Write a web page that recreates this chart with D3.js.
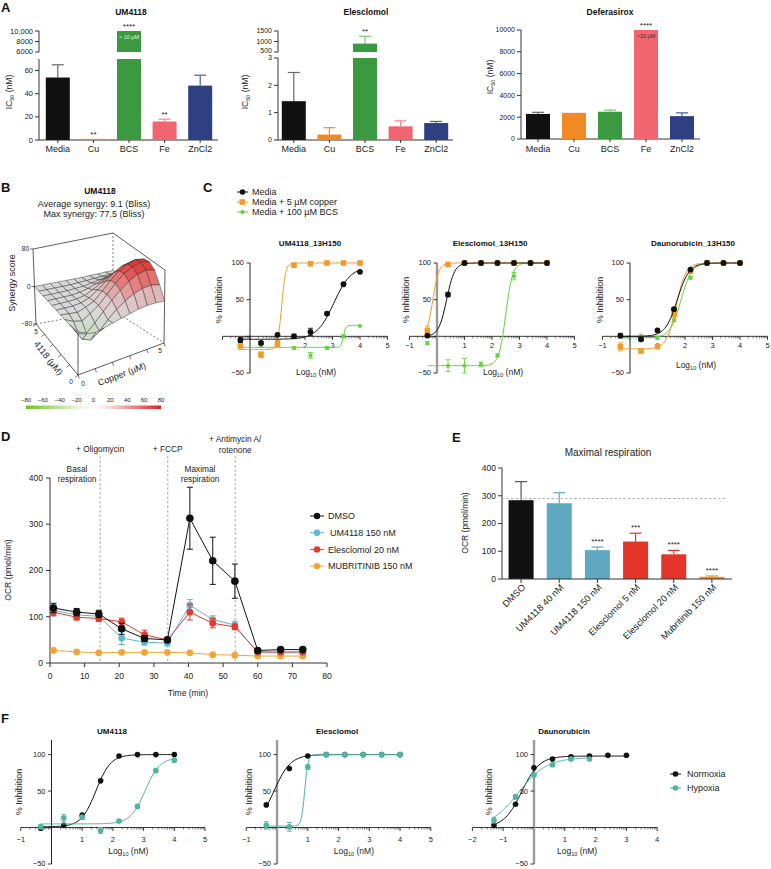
<!DOCTYPE html>
<html><head><meta charset="utf-8">
<script src="https://cdn.jsdelivr.net/npm/d3@7"></script>
<style>body{margin:0;background:#fff} svg{display:block}</style>
</head><body><script>
// ================= DATA =================
// Panel A
const aCategories=["Media","Cu","BCS","Fe","ZnCl2"];
const um4118IC50=[54,1,10000,16,47];
const um4118IC50Err=[11,0,0,2,9];
const um4118Sig=["","**","****","**",""];
const um4118LowTicks=[0,20,40,60];
const um4118UpTicks=[6000,8000,10000];
const um4118UpLabels=["6000","8000","10,000"];
const elesIC50=[1.42,0.2,900,0.5,0.62];
const elesIC50Err=[1.05,0.25,350,0.2,0.06];
const elesSig=["","","**","",""];
const elesLowTicks=[0,1,2,3];
const elesUpTicks=[500,1000,1500];
const elesUpLabels=["500","1000","1500"];
const defIC50=[2300,2400,2500,10000,2100];
const defIC50Err=[150,0,150,0,300];
const defSig=["","","","****",""];
const defTicks=[0,2000,4000,6000,8000,10000];
// Panel B (synergy surface, rows = 4118 µM, cols = copper µM)
const syn4118=[0,0.5,1,1.5,2,2.5,3,3.5,4,4.5,5];
const synCopper=[0,0.5,1,1.5,2,2.5,3,3.5,4,4.5,5];
const synergy=[
 [0,-5,-8,-5,0,4,8,12,14,14,12],
 [0,-25,-32,-20,-2,14,26,36,42,44,40],
 [0,-20,-28,-12,6,24,40,54,64,68,64],
 [0,-8,-12,-2,10,28,46,62,72,77,74],
 [0,-2,-4,2,10,26,44,60,70,75,72],
 [0,0,0,2,8,20,34,48,58,62,60],
 [0,0,0,1,4,12,22,32,40,44,42],
 [0,0,0,0,2,6,12,18,24,26,25],
 [0,0,0,0,1,2,5,8,11,12,12],
 [0,0,0,0,0,1,2,3,4,5,5],
 [0,0,0,0,0,0,0,1,1,2,2]];
const synZTicks=[-80,0,80];
const synBarTicks=[-80,-60,-40,-20,0,20,40,60,80];
// Panel C
const cSeriesNames=["Media","Media + 5 µM copper","Media + 100 µM BCS"];
const cDose=[-0.35,0.4,1.0,1.6,2.2,2.8,3.4,4.0];
const c1Media=[-5,-9,2,0,6,31,71,88], c1MediaErr=[3,2,2,3,5,2,2,1];
const c1Copper=[-13,-25,-10,97,99,100,100,100], c1CopperErr=[5,4,4,1,1,1,1,1];
const c1BCS=[-12,-13,-7,-16,-26,-16,0,14], c1BCSErr=[2,2,2,2,4,2,2,1];
const c1Fits=[[-4,95,3.05,1.4],[-18,100,1.15,6],[-15,15,3.4,10]];
const c2Media=[1,57,100,100,100,100,100,100], c2MediaErr=[2,3,1,1,1,1,1,1];
const c2Copper=[8,98,100,100,100,100,100,100], c2CopperErr=[6,1,1,1,1,1,1,1];
const c2BCS=[-9,-40,-40,-38,-26,82,100,100], c2BCSErr=[2,8,10,3,2,5,1,1];
const c2Fits=[[0,100,0.35,3],[0,100,-0.15,4],[-40,100,2.5,3.5]];
const c3Media=[1,-4,8,37,91,100,100,100], c3MediaErr=[3,2,1,2,1,0,0,0];
const c3Copper=[-14,-20,-14,30,89,100,100,100], c3CopperErr=[5,2,2,3,2,0,0,0];
const c3BCS=[0,-1,-2,22,80,100,100,100], c3BCSErr=[2,4,2,2,2,0,0,0];
const c3Fits=[[0,100,1.72,2],[-17,100,1.68,2.5],[-2,100,1.85,2.2]];
const c1XLabels=[2,3,4,5], c23XLabels=[-1,1,2,3,4,5];
const cYTicks=[-50,0,50,100], cYLabels=[-50,50,100];
// Panel D
const dTime=[1,7.7,14.1,20.7,27.3,33.9,40.4,47,53.4,60,66.6,73];
const dSeriesNames=["DMSO","UM4118 150 nM","Elesclomol 20 nM","MUBRITINIB 150 nM"];
const dDMSO=[119,110,106,74,53,50,313,221,177,27,29,29];
const dDMSOErr=[10,8,8,12,6,4,67,51,37,4,4,4];
const dUM=[114,104,101,54,45,43,125,94,82,22,22,22];
const dUMErr=[12,10,10,14,6,6,12,8,8,3,3,3];
const dEles=[110,99,96,89,61,50,110,86,78,24,24,24];
const dElesErr=[8,6,6,8,10,3,17,10,6,3,3,3];
const dMub=[27,24,22,23,23,23,22,18,17,15,15,15];
const dMubErr=[3,2,2,2,2,2,2,2,2,2,2,2];
const dInjTimes=[14.5,34,53.5];
const dInjLabels=[["+ Oligomycin"],["+ FCCP"],["+ Antimycin A/","rotenone"]];
const dXTicks=[0,10,20,30,40,50,60,70,80];
const dYTicks=[0,100,200,300,400];
// Panel E
const eCats=["DMSO","UM4118 40 nM","UM4118 150 nM","Elesclomol 5 nM","Elesclomol 20 nM","Mubritinib 150 nM"];
const eVals=[284,273,104,135,89,8];
const eErr=[67,38,11,30,14,3];
const eSig=["","","****","***","****","****"];
const eRefLine=290;
const eYTicks=[0,100,200,300,400];
// Panel F
const fSeriesNames=["Normoxia","Hypoxia"];
const fDose=[-0.35,0.4,1.0,1.6,2.2,2.8,3.4,4.0];
const f1Norm=[-1,3,17,64,98,100,100,100], f1NormErr=[2,1,1,1,1,0,0,0];
const f1Hyp=[1,13,14,-4,9,29,78,92], f1HypErr=[3,5,3,4,2,2,2,2];
const f1Fits=[[1,100,1.45,1.8],[5,96,3.05,1.8]];
const f2Norm=[31,81,98,100,100,100,100,100], f2NormErr=[1,1,1,0,0,0,0,0];
const f2Hyp=[3,1,83,100,100,100,100,100], f2HypErr=[5,6,3,0,0,0,0,0];
const f2Fits=[[0,100,-0.1,1.6],[2,100,0.9,8]];
const f3Dose=[-1.3,-0.6,0,0.6,1.2,1.8,2.4,3.0];
const f3Norm=[3,32,82,94,97,98,99,99], f3NormErr=[1,1,1,1,0,0,0,0];
const f3Dose6=[-1.3,-0.6,0,0.6,1.2,1.8];
const f3Hyp=[10,42,72,86,94,94], f3HypErr=[4,3,2,2,2,2];
const f3Fits=[[0,98,-0.4,1.5],[0,96,-0.5,0.95]];
const fYTicks=[-50,0,50,100], fYLabels=[-50,50,100];

// ================= STYLES =================
const FONT='"Liberation Sans", Arial, Helvetica, sans-serif';
const aColors=["#111111","#f08a24","#3b9a3f","#f0656f","#2e3f82"];
const aErrColors=["#666666","#f08a24","#7cc27e","#f3868d","#4d5ea0"];
const cColors=["#111111","#f39a2b","#62d13f"];
const dColors=["#111111","#5fb6cf","#e8382b","#f2a535"];
const eColors=["#111111","#5ea9c0","#5ea9c0","#e3352a","#e3352a","#ef8f2a"];
const fColors=["#111111","#4fb5a2"];

const svg=d3.select("body").append("svg").attr("width",771).attr("height",869)
  .style("font-family",FONT).style("background","#fff");
svg.append("rect").attr("width",771).attr("height",869).attr("fill","#fff");

function T(g,x,y,s,o={}){
  const t=g.append("text").attr("x",x).attr("y",y).text(s)
    .attr("font-size",o.size||8.5).attr("text-anchor",o.anchor||"middle")
    .attr("fill",o.fill||"#222");
  if(o.bold) t.attr("font-weight","bold");
  if(o.rot!=null) t.attr("transform",`rotate(${o.rot},${x},${y})`);
  if(o.dy) t.attr("dy",o.dy);
  return t;
}
function L(g,x1,y1,x2,y2,c="#222",w=1,dash=null){
  const l=g.append("line").attr("x1",x1).attr("y1",y1).attr("x2",x2).attr("y2",y2)
    .attr("stroke",c).attr("stroke-width",w);
  if(dash) l.attr("stroke-dasharray",dash);
  return l;
}
function subLabel(g,x,y,pre,sub,post,o={}){
  const t=g.append("text").attr("x",x).attr("y",y).attr("font-size",o.size||8.5)
    .attr("text-anchor","middle").attr("fill","#222");
  if(o.rot!=null) t.attr("transform",`rotate(${o.rot},${x},${y})`);
  t.append("tspan").text(pre);
  t.append("tspan").text(sub).attr("font-size",(o.size||8.5)*0.65).attr("dy",2);
  t.append("tspan").text(post).attr("dy",-2);
  return t;
}

// panel letters
[["A",1,12],["B",1,192],["C",203,192],["D",1,441],["E",452,442],["F",1,723]].forEach(d=>
  T(svg,d[1],d[2],d[0],{size:13,bold:true,anchor:"start",fill:"#111"}));

// ================= PANEL A =================
function panelA(o){
  const g=svg.append("g");
  const x=d3.scalePoint(aCategories,[o.bx0,o.bx1]).padding(0.5);
  const bw=24;
  const yL=d3.scaleLinear(o.lowDom,o.lowRange);
  const yU=o.upDom?d3.scaleLinear(o.upDom,o.upRange):null;
  const ts=o.tickSize||7.5;
  T(g,o.titleX,15,o.title,{size:8.5,bold:true,fill:"#111"});
  L(g,o.ax,yL(o.lowDom[1]),o.ax,yL(0),"#333",1);
  o.lowTicks.forEach((t,i)=>{L(g,o.ax-4,yL(t),o.ax,yL(t),"#333",1);
    T(g,o.ax-6,yL(t),String(t),{size:ts,anchor:"end",dy:"0.35em"});});
  if(yU){
    L(g,o.ax,yU(o.upDom[1]),o.ax,yU(o.upDom[0]),"#333",1);
    o.upTicks.forEach((t,i)=>{L(g,o.ax-4,yU(t),o.ax,yU(t),"#333",1);
      T(g,o.ax-6,yU(t)-(i===0?1:0),o.upLabels[i],{size:ts,anchor:"end",dy:"0.35em"});});
  }
  L(g,o.ax,yL(0),o.axEnd,yL(0),"#333",1);
  subLabel(g,o.ylabX,o.ylabY,"IC","50"," (nM)",{size:8.5,rot:-90});
  aCategories.forEach((c,i)=>{
    const cx=x(c), v=o.vals[i], e=o.errs[i];
    L(g,cx,yL(0),cx,yL(0)+3,"#333",1);
    T(g,cx,152,c,{size:9,fill:"#222"});
    let topY;
    if(!yU || v<=o.lowDom[1]){
      if(e>0){L(g,cx,yL(v),cx,yL(v+e),aErrColors[i],1.2);L(g,cx-6,yL(v+e),cx+6,yL(v+e),aErrColors[i],1.2);}
      g.append("rect").attr("x",cx-bw/2).attr("width",bw).attr("y",yL(v)).attr("height",Math.max(1.2,yL(0)-yL(v))).attr("fill",aColors[i]);
      topY=yL(v+e);
    } else {
      g.append("rect").attr("x",cx-bw/2).attr("width",bw).attr("y",yL(o.lowDom[1])).attr("height",yL(0)-yL(o.lowDom[1])).attr("fill",aColors[i]);
      const vv=Math.min(v,o.upDom[1]);
      if(e>0){L(g,cx,yU(vv),cx,yU(vv+e),aErrColors[i],1.2);L(g,cx-6,yU(vv+e),cx+6,yU(vv+e),aErrColors[i],1.2);}
      g.append("rect").attr("x",cx-bw/2).attr("width",bw).attr("y",yU(vv)).attr("height",yU(o.upDom[0])-yU(vv)).attr("fill",aColors[i]);
      topY=yU(vv+e);
    }
    if(o.sig[i]) T(g,cx,topY-2,o.sig[i],{size:8,fill:"#222"});
    if(o.over && o.over[i]) T(g,cx,topY+8,o.over[i],{size:5.5,fill:o.overFill});
  });
}
panelA({title:"UM4118",titleX:131,bx0:40,bx1:218,ax:39,axEnd:218,lowDom:[0,70],lowRange:[140,59],
  upDom:[6000,10000],upRange:[52,31],lowTicks:um4118LowTicks,upTicks:um4118UpTicks,upLabels:um4118UpLabels,
  vals:um4118IC50,errs:um4118IC50Err,sig:um4118Sig,ylabX:12,ylabY:92,over:["","","> 10 µM","",""],overFill:"#e8f3e8"});
panelA({title:"Elesclomol",titleX:366,bx0:276,bx1:454,ax:278,axEnd:453,lowDom:[0,3],lowRange:[140,58],
  upDom:[500,1500],upRange:[52,31],lowTicks:elesLowTicks,upTicks:elesUpTicks,upLabels:elesUpLabels,tickSize:7,
  vals:elesIC50,errs:elesIC50Err,sig:elesSig,ylabX:248,ylabY:92});
panelA({title:"Deferasirox",titleX:610,bx0:520,bx1:700,ax:521,axEnd:700,lowDom:[0,10000],lowRange:[139,30],tickSize:7,
  lowTicks:defTicks,vals:defIC50,errs:defIC50Err,sig:defSig,ylabX:493,ylabY:77,over:["","","",">10 µM",""],overFill:"#333"});

// ================= PANEL B =================
(function(){
  const g=svg.append("g");
  T(g,100,194,"UM4118",{size:8.5,bold:true,fill:"#111"});
  T(g,94,207,"Average synergy: 9.1 (Bliss)",{size:9});
  T(g,94,217,"Max synergy: 77.5 (Bliss)",{size:9});
  const uS=d3.scaleLinear([0,5],[0,1]), vS=d3.scaleLinear([0,5],[0,1]), wS=d3.scaleLinear([-80,80],[0,1]);
  const BOT={O:[78,375],R:[164,343],Lc:[36,324],B:[113,310]};
  const TOP={O:[78,293],R:[165,270],Lc:[33,249],B:[113,233]};
  function bil(c,u,v){
    const a=[c.O[0]*(1-u)+c.R[0]*u, c.O[1]*(1-u)+c.R[1]*u];
    const b=[c.Lc[0]*(1-u)+c.B[0]*u, c.Lc[1]*(1-u)+c.B[1]*u];
    return [a[0]*(1-v)+b[0]*v, a[1]*(1-v)+b[1]*v];
  }
  function P(cu,c4,z){const u=uS(cu),v=vS(c4),w=wS(z);const b=bil(BOT,u,v),t=bil(TOP,u,v);
    return [b[0]+(t[0]-b[0])*w,b[1]+(t[1]-b[1])*w];}
  const col=d3.scaleLinear([-80,-20,0,20,80],["#6cc61e","#e6f4da","#ffffff","#f8d9dc","#e2201a"]);
  const bB=P(5,5,-80), bT=P(5,5,80), lB=P(0,5,-80), lT=P(0,5,80), rB=P(5,0,-80), rT=P(5,0,80), oB=P(0,0,-80);
  L(g,bB[0],bB[1],bT[0],bT[1],"#444",0.7,"2,2");
  L(g,lB[0],lB[1],bB[0],bB[1],"#444",0.7,"2,2");
  L(g,bB[0],bB[1],rB[0],rB[1],"#444",0.7,"2,2");
  L(g,lB[0],lB[1],lT[0],lT[1],"#333",0.8);
  L(g,lT[0],lT[1],bT[0],bT[1],"#333",0.8);
  L(g,bT[0],bT[1],rT[0],rT[1],"#333",0.8);
  L(g,rB[0],rB[1],rT[0],rT[1],"#333",0.8);
  const oS=P(0,0,synergy[0][0]);
  L(g,oB[0],oB[1],oS[0],oS[1],"#333",0.8);
  const cells=[];
  for(let i=0;i<syn4118.length-1;i++)for(let j=0;j<synCopper.length-1;j++)cells.push([i,j]);
  cells.sort((a,b)=>(b[0]+b[1])-(a[0]+a[1]));
  cells.forEach(([i,j])=>{
    const pts=[[i,j],[i,j+1],[i+1,j+1],[i+1,j]].map(([a,b])=>P(synCopper[b],syn4118[a],synergy[a][b]));
    const m=(synergy[i][j]+synergy[i][j+1]+synergy[i+1][j]+synergy[i+1][j+1])/4;
    const blend=0.34-0.26*Math.min(Math.abs(m)/50,1);
    g.append("path").attr("d","M"+pts.map(p=>p.join(",")).join("L")+"Z")
      .attr("fill",d3.interpolateRgb(col(m),"#8c8c8c")(blend)).attr("stroke","#2a2a2a").attr("stroke-width",0.45);
  });
  L(g,lB[0],lB[1],oB[0],oB[1],"#333",0.8);
  L(g,oB[0],oB[1],rB[0],rB[1],"#333",0.8);
  synZTicks.forEach(z=>{const p=P(0,5,z);L(g,p[0]-3,p[1],p[0],p[1],"#333",0.7);
    T(g,p[0]-4,p[1],String(z).replace("-","−"),{size:6.5,anchor:"end",dy:"0.35em"});});
  T(g,15,283,"Synergy score",{size:9,rot:-90});
  [0,1,2,3,4,5].forEach(t=>{const p=P(0,t,-80);L(g,p[0],p[1],p[0]-3,p[1]+2.5,"#333",0.7);});
  T(g,36,334,"5",{size:6.5}); T(g,71,384,"0",{size:6.5});
  T(g,46,360,"4118 (µM)",{size:9,rot:52});
  [0,1,2,3,4,5].forEach(t=>{const p=P(t,0,-80);L(g,p[0],p[1],p[0]+1.2,p[1]+3.5,"#333",0.7);});
  T(g,83,386,"0",{size:6.5}); T(g,160,353,"5",{size:6.5});
  T(g,123,377,"Copper (µM)",{size:9,rot:-21});
  const cb=d3.scaleLinear([-80,80],[26,161]);
  const grad=svg.append("defs").append("linearGradient").attr("id","synGrad");
  synBarTicks.forEach(t=>grad.append("stop").attr("offset",((t+80)/160*100)+"%").attr("stop-color",col(t)));
  g.append("rect").attr("x",cb(-80)).attr("y",405.5).attr("width",cb(80)-cb(-80)).attr("height",3.5).attr("fill","url(#synGrad)");
  synBarTicks.forEach(t=>T(g,cb(t),402,String(t).replace("-","−"),{size:6}));
})();

// ================= DOSE-RESPONSE (C, F) =================
function fourPL(p,x){return p[0]+(p[1]-p[0])/(1+Math.pow(10,(p[2]-x)*p[3]));}
function dosePanel(o){
  const g=svg.append("g");
  const x=d3.scaleLinear(o.xDom,o.xRange), y=d3.scaleLinear(o.yDom,o.yRange);
  const X0=x(0), Y0=y(0);
  T(g,o.titleX,o.titleY,o.title,{size:8,bold:true,fill:"#111"});
  L(g,x(o.xDom[0]),Y0,x(o.xDom[1]),Y0,"#222",0.9);
  for(let n=o.xDom[0];n<=o.xDom[1];n++){
    L(g,x(n),Y0,x(n),Y0+3.5,"#222",0.9);
    if(n<o.xDom[1]) for(let k=2;k<10;k++){const t=n+Math.log10(k);L(g,x(t),Y0,x(t),Y0+2,"#222",0.6);}
  }
  o.xLabels.forEach(t=>T(g,x(t),Y0+o.xlabDy,String(t).replace("-","−"),{size:7.5}));
  L(g,X0,y(o.yDom[1]),X0,y(o.yDom[0]),o.yAxisColor,o.yAxisW);
  o.yTicks.forEach(t=>L(g,X0-3.5,y(t),X0,y(t),"#222",0.9));
  o.yLabels.forEach(t=>T(g,X0-6,y(t),String(t).replace("-","−"),{size:7.5,anchor:"end",dy:"0.33em"}));
  T(g,o.ylabX,o.ylabY,"% Inhibition",{size:9,rot:-90});
  subLabel(g,x(o.logX),o.logY,"Log","10"," (nM)",{size:8.5});
  o.series.forEach(s=>{
    const xs=d3.range(0,101).map(k=>s.dose[0]+(s.dose[s.dose.length-1]-s.dose[0])*k/100);
    g.append("path").attr("d",d3.line().x(d=>x(d)).y(d=>y(fourPL(s.fit,d)))(xs))
      .attr("fill","none").attr("stroke",s.color).attr("stroke-width",1);
    s.vals.forEach((v,i)=>{const e=s.errs[i], px=x(s.dose[i]);
      if(e>=2){L(g,px,y(v-e),px,y(v+e),s.color,0.9);L(g,px-2.5,y(v-e),px+2.5,y(v-e),s.color,0.9);L(g,px-2.5,y(v+e),px+2.5,y(v+e),s.color,0.9);}
    });
    s.vals.forEach((v,i)=>{const px=x(s.dose[i]), py=y(v);
      if(s.shape==="square") g.append("rect").attr("x",px-2.8).attr("y",py-2.8).attr("width",5.6).attr("height",5.6).attr("fill",s.color);
      else g.append("circle").attr("cx",px).attr("cy",py).attr("r",s.r||2.8).attr("fill",s.color);
    });
  });
}
const cBase={xDom:[-1,5],yDom:[-50,100],yRange:[373,263],yTicks:cYTicks,yLabels:cYLabels,titleY:246,xlabDy:11.5,logY:375,ylabY:300,logX:2.4};
function cSeries(m,me,c,ce,b,be,fits){return [
  {dose:cDose,vals:b,errs:be,fit:fits[2],color:cColors[2],shape:"circle",r:2},
  {dose:cDose,vals:c,errs:ce,fit:fits[1],color:cColors[1],shape:"square"},
  {dose:cDose,vals:m,errs:me,fit:fits[0],color:cColors[0],shape:"circle",r:2.9}];}
dosePanel(Object.assign({},cBase,{title:"UM4118_13H150",titleX:310,xRange:[222.5,387.5],xLabels:c1XLabels,
  yAxisColor:"#222",yAxisW:1,ylabX:222,series:cSeries(c1Media,c1MediaErr,c1Copper,c1CopperErr,c1BCS,c1BCSErr,c1Fits)}));
dosePanel(Object.assign({},cBase,{title:"Elesclomol_13H150",titleX:490,xRange:[409.5,574.5],xLabels:c23XLabels,
  yAxisColor:"#9a9a9a",yAxisW:2.4,ylabX:409,series:cSeries(c2Media,c2MediaErr,c2Copper,c2CopperErr,c2BCS,c2BCSErr,c2Fits)}));
dosePanel(Object.assign({},cBase,{title:"Daunorubicin_13H150",titleX:693,xRange:[602.5,767.5],xLabels:c23XLabels,logY:368,
  yAxisColor:"#222",yAxisW:1,ylabX:603,series:cSeries(c3Media,c3MediaErr,c3Copper,c3CopperErr,c3BCS,c3BCSErr,c3Fits)}));
(function(){
  const g=svg.append("g");
  cSeriesNames.forEach((n,i)=>{const yy=192+i*10;
    L(g,237,yy,248,yy,cColors[i],1);
    if(i===1) g.append("rect").attr("x",239.5).attr("y",yy-2.8).attr("width",5.6).attr("height",5.6).attr("fill",cColors[i]);
    else g.append("circle").attr("cx",242.5).attr("cy",yy).attr("r",i===0?2.8:2).attr("fill",cColors[i]);
    T(g,252,yy,n,{size:9,anchor:"start",dy:"0.35em"});
  });
})();

const fBase={yDom:[-50,120],yRange:[864,740],yTicks:fYTicks,yLabels:fYLabels,titleY:734,xlabDy:14,logY:854,ylabY:792};
function fSeries(dn,n,ne,dh,h,he,fits){return [
  {dose:dn,vals:n,errs:ne,fit:fits[0],color:fColors[0],shape:"circle",r:2.8},
  {dose:dh,vals:h,errs:he,fit:fits[1],color:fColors[1],shape:"circle",r:2.8}];}
dosePanel(Object.assign({},fBase,{title:"UM4118",titleX:112,xDom:[-1,5],xRange:[20.8,205],xLabels:[-1,1,2,3,4,5],logX:2.5,
  yAxisColor:"#222",yAxisW:1,ylabX:22,series:fSeries(fDose,f1Norm,f1NormErr,fDose,f1Hyp,f1HypErr,f1Fits)}));
dosePanel(Object.assign({},fBase,{title:"Elesclomol",titleX:337,xDom:[-1,5],xRange:[246.3,430.8],xLabels:[-1,1,2,3,4,5],logX:2.5,
  yAxisColor:"#9a9a9a",yAxisW:2.4,ylabX:252,series:fSeries(fDose,f2Norm,f2NormErr,fDose,f2Hyp,f2HypErr,f2Fits)}));
dosePanel(Object.assign({},fBase,{title:"Daunorubicin",titleX:564,xDom:[-2,4],xRange:[472.4,657.2],xLabels:[-2,-1,1,2,3,4],logX:1.4,
  yAxisColor:"#9a9a9a",yAxisW:2.4,ylabX:492,series:fSeries(f3Dose,f3Norm,f3NormErr,f3Dose6,f3Hyp,f3HypErr,f3Fits)}));
(function(){
  const g=svg.append("g");
  fSeriesNames.forEach((n,i)=>{const yy=774+i*14;
    L(g,670,yy,681,yy,fColors[i],1);
    g.append("circle").attr("cx",675.5).attr("cy",yy).attr("r",2.8).attr("fill",fColors[i]);
    T(g,687,yy,n,{size:9,anchor:"start",dy:"0.35em"});
  });
})();

// ================= PANEL D =================
(function(){
  const g=svg.append("g");
  const x=d3.scaleLinear([0,80],[50,327]), y=d3.scaleLinear([0,400],[663,478]);
  dInjTimes.forEach((t,i)=>{
    L(g,x(t),456,x(t),663,"#b5b5b5",1.2,"2.5,2");
    const lab=dInjLabels[i];
    lab.forEach((s,k)=>T(g,x(t),lab.length===2?442+k*11:452,s,{size:8.3}));
  });
  T(g,77,472,"Basal",{size:8.3}); T(g,77,482,"respiration",{size:8.3});
  T(g,200,472,"Maximal",{size:8.3}); T(g,200,482,"respiration",{size:8.3});
  L(g,50,y(400),50,y(0),"#333",1);
  dYTicks.forEach(t=>{L(g,46,y(t),50,y(t),"#333",1);T(g,43,y(t),String(t),{size:8.5,anchor:"end",dy:"0.35em"});});
  L(g,50,663,327,663,"#333",1);
  dXTicks.forEach(t=>{L(g,x(t),663,x(t),667,"#333",1);T(g,x(t),679,String(t),{size:8.5});});
  T(g,188,696,"Time (min)",{size:8.5});
  T(g,11,570,"OCR (pmol/min)",{size:8.5,rot:-90});
  const series=[[dMub,dMubErr,3],[dUM,dUMErr,1],[dEles,dElesErr,2],[dDMSO,dDMSOErr,0]];
  series.forEach(([vals,errs,ci])=>{
    const c=dColors[ci];
    g.append("path").attr("d",d3.line().x((d,i)=>x(dTime[i])).y(d=>y(d))(vals))
      .attr("fill","none").attr("stroke",c).attr("stroke-width",1);
    vals.forEach((v,i)=>{const e=errs[i];const px=x(dTime[i]);
      if(e>=4){L(g,px,y(v-e),px,y(v+e),c,1);L(g,px-3,y(v-e),px+3,y(v-e),c,1);L(g,px-3,y(v+e),px+3,y(v+e),c,1);}});
    vals.forEach((v,i)=>g.append("circle").attr("cx",x(dTime[i])).attr("cy",y(v)).attr("r",ci===0?3.8:3.4).attr("fill",c));
  });
  dSeriesNames.forEach((n,i)=>{const yy=516+i*16.7;
    L(g,310,yy,324,yy,dColors[i],1);
    g.append("circle").attr("cx",317).attr("cy",yy).attr("r",3.2).attr("fill",dColors[i]);
    T(g,i===1?330:328,yy,n,{size:9,anchor:"start",dy:"0.35em"});
  });
})();

// ================= PANEL E =================
(function(){
  const g=svg.append("g");
  const x=d3.scalePoint(eCats,[502,731]).padding(0.5);
  const y=d3.scaleLinear([0,400],[579,468]);
  const bw=25;
  T(g,608,456,"Maximal respiration",{size:10});
  L(g,502,y(400),502,y(0),"#333",1);
  eYTicks.forEach(t=>{L(g,498,y(t),502,y(t),"#333",1);T(g,496,y(t),String(t),{size:8.5,anchor:"end",dy:"0.35em"});});
  T(g,468,523,"OCR (pmol/min)",{size:8.5,rot:-90});
  eCats.forEach((c,i)=>{
    const cx=x(c), v=eVals[i], e=eErr[i];
    const ec=eColors[i]==="#111111"?"#555":eColors[i];
    L(g,cx,y(v),cx,y(v+e),ec,1.2);
    L(g,cx-6,y(v+e),cx+6,y(v+e),ec,1.2);
    g.append("rect").attr("x",cx-bw/2).attr("width",bw).attr("y",y(v)).attr("height",y(0)-y(v)).attr("fill",eColors[i]);
    if(eSig[i]) T(g,cx,y(v+e)-3,eSig[i],{size:8});
    L(g,cx,579,cx,583,"#333",1);
    g.append("text").attr("transform",`translate(${cx+5},${588}) rotate(-45)`).attr("text-anchor","end")
      .attr("font-size",9.3).attr("fill","#222").text(c);
  });
  L(g,502,y(eRefLine),727,y(eRefLine),"#b0b0b0",1.1,"2.5,2");
  L(g,502,579,732,579,"#333",1);
})();
</script></body></html>
